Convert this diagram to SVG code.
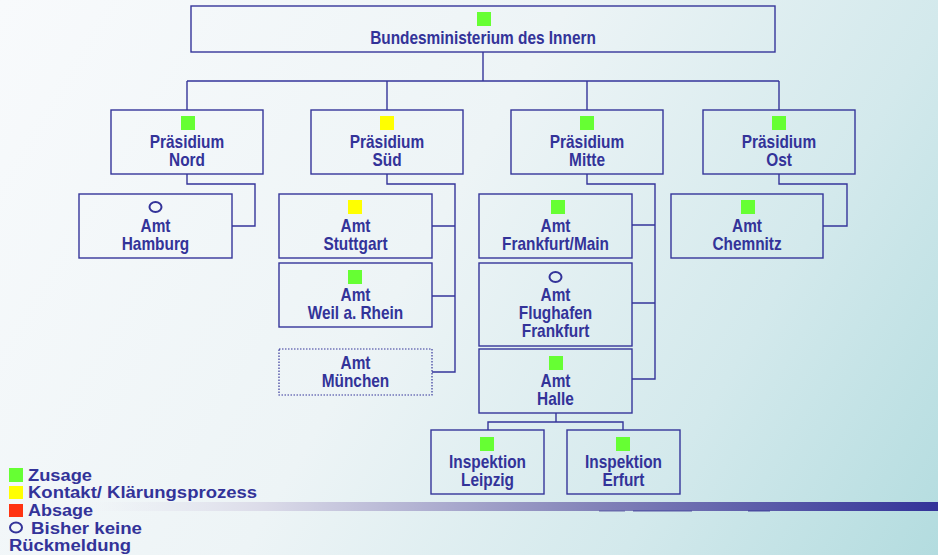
<svg xmlns="http://www.w3.org/2000/svg" width="938" height="555" viewBox="0 0 938 555">
<defs>
<linearGradient id="bg" x1="0" y1="0" x2="938" y2="555" gradientUnits="userSpaceOnUse">
<stop offset="0" stop-color="#f8fafc"/>
<stop offset="0.45" stop-color="#edf4f6"/>
<stop offset="0.75" stop-color="#d3e9ec"/>
<stop offset="1" stop-color="#b3dcdf"/>
</linearGradient>
<linearGradient id="bar" x1="90" y1="0" x2="938" y2="0" gradientUnits="userSpaceOnUse">
<stop offset="0" stop-color="#e6e6f0" stop-opacity="0"/>
<stop offset="0.2" stop-color="#dcdce9" stop-opacity="1"/>
<stop offset="0.6" stop-color="#8282b8"/>
<stop offset="1" stop-color="#333399"/>
</linearGradient>
<style>
.box{fill:none;stroke:#35359a;stroke-width:1.4}
.dot{fill:none;stroke:#35359a;stroke-width:1.2;stroke-dasharray:1.5 1.5}
.con{fill:none;stroke:#35359a;stroke-width:1.4}
.t{font-family:"Liberation Sans",Arial,sans-serif;font-weight:bold;font-size:17.5px;fill:#333399;text-anchor:middle}
.lg{font-family:"Liberation Sans",Arial,sans-serif;font-weight:bold;font-size:16px;fill:#333399}
.g{fill:#66ff33}
.y{fill:#ffff00}
.r{fill:#ff3311}
.o{fill:none;stroke:#333399;stroke-width:2}
</style>
</defs>
<rect x="0" y="0" width="938" height="555" fill="url(#bg)"/>
<rect x="90" y="502" width="848" height="9" fill="url(#bar)"/>
<rect x="599" y="510" width="26" height="1.5" fill="#6a6aac"/>
<rect x="633" y="510" width="59" height="1.5" fill="#5a5aa6"/>
<rect x="748" y="510" width="22" height="1.5" fill="#4a4a9f"/>

<g id="connectors">
<path class="con" d="M483 52V81M187 81H779M187 81V110M387 81V110M587 81V110M779 81V110"/>
<path class="con" d="M187 174V184H255V226H232"/>
<path class="con" d="M387 174V184H455V372H432M432 226H455M432 296H455"/>
<path class="con" d="M587 174V184H655V379H632M632 225H655M632 303H655"/>
<path class="con" d="M779 174V184H847V226H823"/>
<path class="con" d="M556 413V422M488 430V422H623V430"/>
</g>

<g id="bmi">
<rect class="box" x="191" y="6" width="584" height="46"/>
<rect class="g" x="477" y="12" width="14" height="14"/>
<text class="t" transform="translate(483 44) scale(0.88 1)">Bundesministerium des Innern</text>
</g>

<g id="p-nord">
<rect class="box" x="111" y="110" width="152" height="64"/>
<rect class="g" x="181" y="116" width="14" height="14"/>
<text class="t" transform="translate(187 148) scale(0.88 1)">Präsidium</text>
<text class="t" transform="translate(187 166) scale(0.88 1)">Nord</text>
</g>
<g id="p-sued">
<rect class="box" x="311" y="110" width="152" height="64"/>
<rect class="y" x="380" y="116" width="14" height="14"/>
<text class="t" transform="translate(387 148) scale(0.88 1)">Präsidium</text>
<text class="t" transform="translate(387 166) scale(0.88 1)">Süd</text>
</g>
<g id="p-mitte">
<rect class="box" x="511" y="110" width="152" height="64"/>
<rect class="g" x="580" y="116" width="14" height="14"/>
<text class="t" transform="translate(587 148) scale(0.88 1)">Präsidium</text>
<text class="t" transform="translate(587 166) scale(0.88 1)">Mitte</text>
</g>
<g id="p-ost">
<rect class="box" x="703" y="110" width="152" height="64"/>
<rect class="g" x="772" y="116" width="14" height="14"/>
<text class="t" transform="translate(779 148) scale(0.88 1)">Präsidium</text>
<text class="t" transform="translate(779 166) scale(0.88 1)">Ost</text>
</g>

<g id="a-hamburg">
<rect class="box" x="79" y="194" width="153" height="64"/>
<ellipse class="o" cx="155.5" cy="207" rx="6" ry="5"/>
<text class="t" transform="translate(155.5 232) scale(0.88 1)">Amt</text>
<text class="t" transform="translate(155.5 250) scale(0.88 1)">Hamburg</text>
</g>
<g id="a-stuttgart">
<rect class="box" x="279" y="194" width="153" height="64"/>
<rect class="y" x="348" y="200" width="14" height="14"/>
<text class="t" transform="translate(355.5 232) scale(0.88 1)">Amt</text>
<text class="t" transform="translate(355.5 250) scale(0.88 1)">Stuttgart</text>
</g>
<g id="a-weil">
<rect class="box" x="279" y="263" width="153" height="64"/>
<rect class="g" x="348" y="270" width="14" height="14"/>
<text class="t" transform="translate(355.5 301) scale(0.88 1)">Amt</text>
<text class="t" transform="translate(355.5 319) scale(0.88 1)">Weil a. Rhein</text>
</g>
<g id="a-muenchen">
<rect class="dot" x="279" y="349" width="153" height="46"/>
<text class="t" transform="translate(355.5 369) scale(0.88 1)">Amt</text>
<text class="t" transform="translate(355.5 387) scale(0.88 1)">München</text>
</g>
<g id="a-frankfurt">
<rect class="box" x="479" y="194" width="153" height="64"/>
<rect class="g" x="551" y="200" width="14" height="14"/>
<text class="t" transform="translate(555.5 232) scale(0.88 1)">Amt</text>
<text class="t" transform="translate(555.5 250) scale(0.88 1)">Frankfurt/Main</text>
</g>
<g id="a-flughafen">
<rect class="box" x="479" y="263" width="153" height="83"/>
<ellipse class="o" cx="555.5" cy="277" rx="6" ry="5"/>
<text class="t" transform="translate(555.5 301) scale(0.88 1)">Amt</text>
<text class="t" transform="translate(555.5 319) scale(0.88 1)">Flughafen</text>
<text class="t" transform="translate(555.5 337) scale(0.88 1)">Frankfurt</text>
</g>
<g id="a-halle">
<rect class="box" x="479" y="349" width="153" height="64"/>
<rect class="g" x="549" y="356" width="14" height="14"/>
<text class="t" transform="translate(555.5 387) scale(0.88 1)">Amt</text>
<text class="t" transform="translate(555.5 405) scale(0.88 1)">Halle</text>
</g>
<g id="a-chemnitz">
<rect class="box" x="671" y="194" width="152" height="64"/>
<rect class="g" x="741" y="200" width="14" height="14"/>
<text class="t" transform="translate(747 232) scale(0.88 1)">Amt</text>
<text class="t" transform="translate(747 250) scale(0.88 1)">Chemnitz</text>
</g>
<g id="i-leipzig">
<rect class="box" x="431" y="430" width="113" height="64"/>
<rect class="g" x="480" y="437" width="14" height="14"/>
<text class="t" transform="translate(487.5 468) scale(0.88 1)">Inspektion</text>
<text class="t" transform="translate(487.5 486) scale(0.88 1)">Leipzig</text>
</g>
<g id="i-erfurt">
<rect class="box" x="567" y="430" width="113" height="64"/>
<rect class="g" x="616" y="437" width="14" height="14"/>
<text class="t" transform="translate(623.5 468) scale(0.88 1)">Inspektion</text>
<text class="t" transform="translate(623.5 486) scale(0.88 1)">Erfurt</text>
</g>

<g id="legend">
<rect class="g" x="9" y="468" width="14" height="14"/>
<text class="lg" x="28" y="481" textLength="64" lengthAdjust="spacingAndGlyphs">Zusage</text>
<rect class="y" x="9" y="486" width="14" height="13"/>
<text class="lg" x="28" y="497.5" textLength="229" lengthAdjust="spacingAndGlyphs">Kontakt/ Klärungsprozess</text>
<rect class="r" x="9" y="504" width="14" height="13"/>
<text class="lg" x="28" y="516" textLength="65" lengthAdjust="spacingAndGlyphs">Absage</text>
<ellipse class="o" cx="16" cy="527.5" rx="6" ry="5"/>
<text class="lg" x="31" y="534" textLength="111" lengthAdjust="spacingAndGlyphs">Bisher keine</text>
<text class="lg" x="9" y="551" textLength="122" lengthAdjust="spacingAndGlyphs">Rückmeldung</text>
</g>
</svg>
